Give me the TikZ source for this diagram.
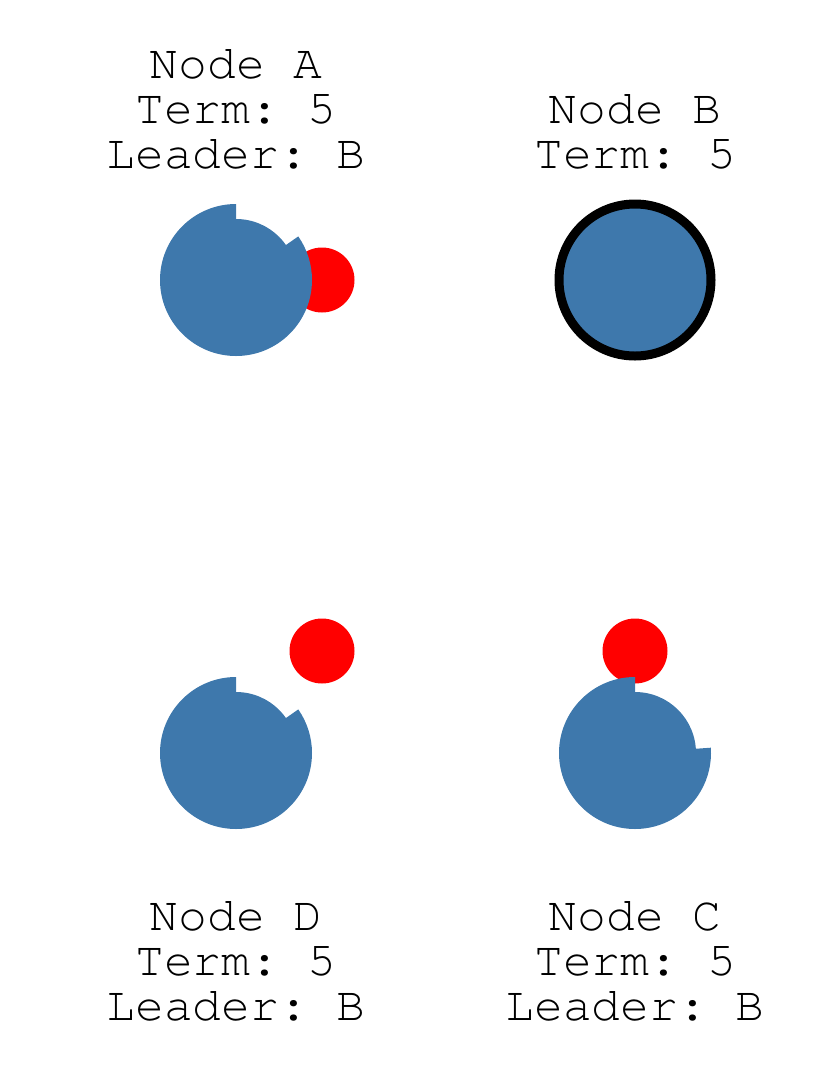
\documentclass[tikz,border=0pt]{standalone}
\usepackage[T1]{fontenc}
\renewcommand{\ttdefault}{pcr}
\usepackage{tikz}
\definecolor{nodeblue}{RGB}{62,120,172}

\begin{document}
\begin{tikzpicture}[x=1pt, y=-1pt,
    label text/.style={font=\ttfamily\fontsize{48}{45}\selectfont\frenchspacing, align=center, inner sep=0pt, anchor=base},
    vote/.style={fill=red}]
        \useasboundingbox (0,0) rectangle (832,1088);

        % Centres
        \coordinate (a) at (236,280);
        \coordinate (b) at (635,280);
        \coordinate (c) at (635,753);
        \coordinate (d) at (236,753);

        % Votes (behind the nodes)
        \fill[vote] (322,280) circle (32.5);
        \fill[vote] (322,651) circle (32.5);
        \fill[vote] (635,651) circle (32.5);

        % Nodes
        \fill[nodeblue] (a) circle (61);
        \fill[nodeblue] (a) -- ++(90:-76) arc[start angle=-90, end angle=-395, radius=76] -- cycle;
        \draw[line width=9pt, fill=nodeblue] (b) circle (76);
        \fill[nodeblue] (c) circle (61);
        \fill[nodeblue] (c) -- ++(90:-76) arc[start angle=-90, end angle=-364, radius=76] -- cycle;
        \fill[nodeblue] (d) circle (61);
        \fill[nodeblue] (d) -- ++(90:-76) arc[start angle=-90, end angle=-395, radius=76] -- cycle;

        % Labels
        \node[label text] (la) at (236,168) {Node A\\Term: 5\\Leader: B};
        \node[label text] (lb) at (635,168) {Node B\\Term: 5};
        \node[label text] (lc) at (635,1020) {Node C\\Term: 5\\Leader: B};
        \node[label text] (ld) at (236,1020) {Node D\\Term: 5\\Leader: B};

    \end{tikzpicture}
\end{document}
